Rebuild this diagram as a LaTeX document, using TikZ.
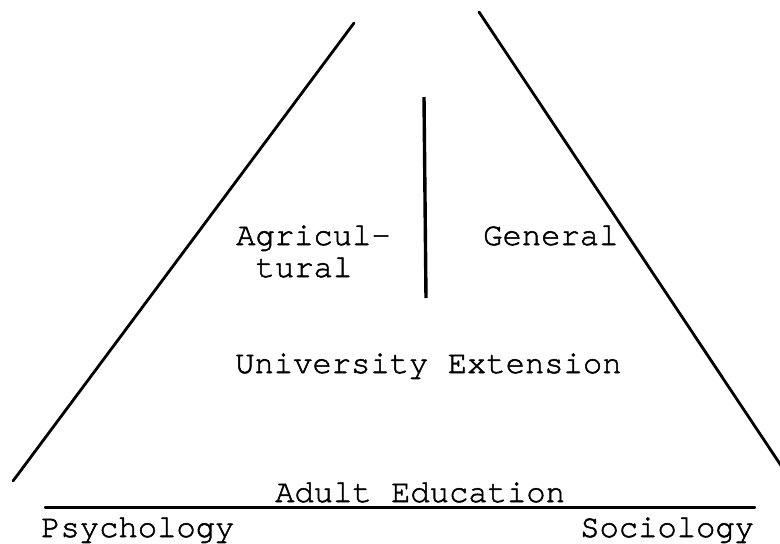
\documentclass[tikz,border=0pt]{standalone}
\usepackage{fontspec}
\setmonofont[FakeBold=1.6]{TeX Gyre Cursor}
\begin{document}
\begin{tikzpicture}[x=1pt,y=-1pt,
  lbl/.style={font=\ttfamily\fontsize{32.2}{34}\selectfont, inner sep=0pt, anchor=base west},
  rule/.style={line width=2.8pt, line cap=round},
  thinrule/.style={line width=2.2pt, line cap=round}]
\useasboundingbox (0,0) rectangle (780,544);
% end points of the two slanted sides, the divider and the base line
\coordinate (lt) at (354,23);
\coordinate (lb) at (13,481);
\coordinate (rt) at (479,12);
\coordinate (rb) at (782,467);
\coordinate (vt) at (424,97);
\coordinate (vb) at (426,298);
\coordinate (hl) at (45,507.5);
\coordinate (hr) at (755,507.5);
\draw[rule] (lt) -- (lb);
\draw[rule] (rt) -- (rb);
\draw[line width=3.4pt] (vt) -- (vb);
\draw[thinrule] (hl) -- (hr);
% labels
\node[lbl] (agr1) at (236,245) {Agricul-};
\node[lbl] (agr2) at (255.5,277) {tural};
\node[lbl] (gen) at (483,245) {General};
\node[lbl] (ue) at (235,373) {University Extension};
\node[lbl] (ae) at (275,502) {Adult Education};
\node[lbl] (psy) at (41,537) {Psychology};
\node[lbl] (soc) at (580,537) {Sociology};
\end{tikzpicture}
\end{document}
